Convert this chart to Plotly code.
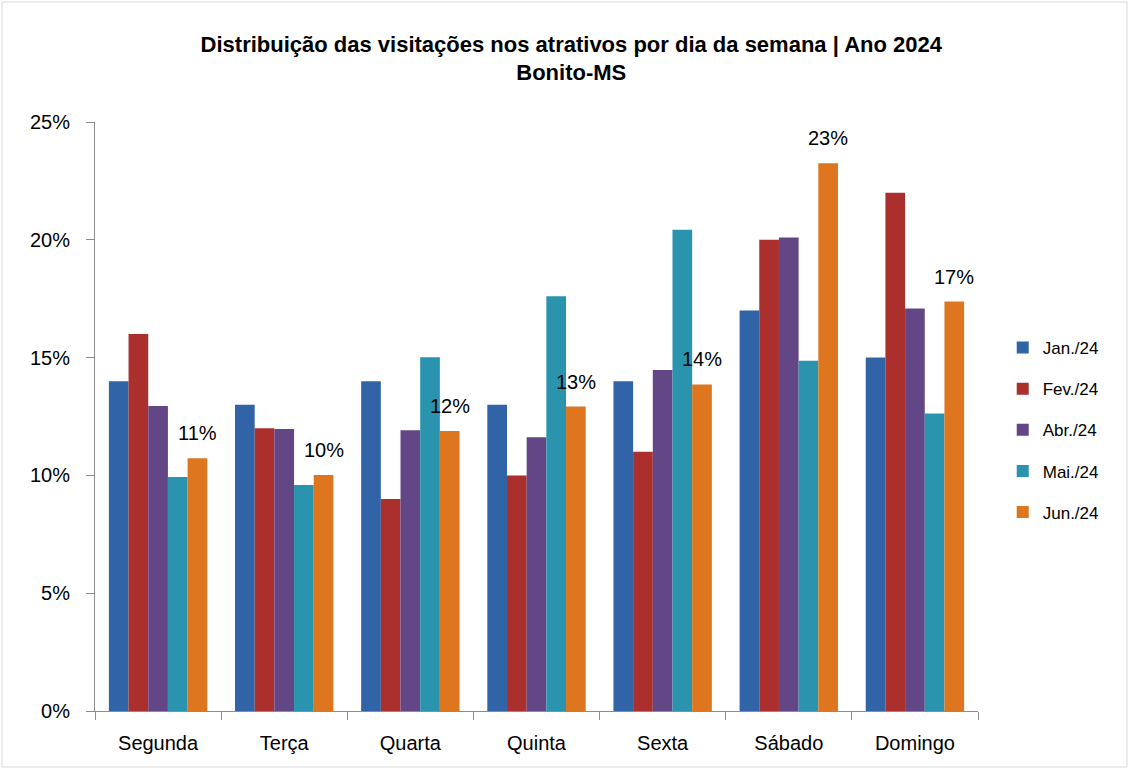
import plotly.graph_objects as go

days = ["Segunda", "Terça", "Quarta", "Quinta", "Sexta", "Sábado", "Domingo"]
series_names = ["Jan./24", "Fev./24", "Abr./24", "Mai./24", "Jun./24"]
jan = [0.140, 0.130, 0.140, 0.130, 0.140, 0.170, 0.150]
fev = [0.160, 0.120, 0.090, 0.100, 0.110, 0.200, 0.220]
abr = [0.1295, 0.1197, 0.1192, 0.1162, 0.1447, 0.2010, 0.1708]
mai = [0.0993, 0.0959, 0.1502, 0.1760, 0.2043, 0.1487, 0.1263]
jun = [0.1073, 0.1002, 0.1188, 0.1292, 0.1386, 0.2325, 0.1738]
colors = ["#3064A6", "#AA2F2D", "#634686", "#2A93AE", "#DE7620"]

W, H = 1129, 769
ML, MR, MT, MB = 95, 151, 122, 58
BARGAP = 0.22
n_series = len(series_names)

fig = go.Figure()
for name, vals, col in zip(series_names, [jan, fev, abr, mai, jun], colors):
    fig.add_trace(go.Bar(x=days, y=vals, name=name, marker=dict(color=col, line=dict(width=0)),
                         legendgroup=name))

# data labels for the last series (Jun./24), placed over its bar
plot_w = W - ML - MR
bar_w = plot_w / len(days) * (1 - BARGAP) / n_series
jun_shift = (n_series - 1 - (n_series - 1) / 2) * bar_w
for d, v in zip(days, jun):
    fig.add_annotation(x=d, y=v, xref="x", yref="y", text=f"{v*100:.0f}%", showarrow=False,
                       xshift=jun_shift, yshift=25, yanchor="middle",
                       font=dict(family="Liberation Sans", size=20, color="#000000"))

fig.update_layout(
    width=W, height=H,
    barmode="group", bargap=BARGAP, bargroupgap=0,
    paper_bgcolor="white", plot_bgcolor="white",
    margin=dict(l=ML, r=MR, t=MT, b=MB),
    title=dict(text="Distribuição das visitações nos atrativos por dia da semana | Ano 2024<br>Bonito-MS",
               x=0.506, xanchor="center", xref="container", y=0.933, yanchor="top", yref="container",
               font=dict(family="Liberation Sans", size=22, color="#000000", weight="bold")),
    font=dict(family="Liberation Sans", color="#000000"),
    legend=dict(x=1.028, xanchor="left", y=0.477, yanchor="middle", traceorder="grouped",
                tracegroupgap=16, font=dict(size=17), itemwidth=30),
    showlegend=True,
)
fig.update_yaxes(range=[0, 0.25], tickformat=".0%", dtick=0.05, showgrid=False, zeroline=False,
                 showline=True, linecolor="#8C8C8C", linewidth=1, ticks="outside", ticklen=8,
                 tickcolor="#8C8C8C", tickfont=dict(size=20), ticklabelstandoff=12, automargin=False)
fig.update_xaxes(showgrid=False, showline=True, linecolor="#8C8C8C", linewidth=1, ticks="outside",
                 tickson="boundaries", ticklen=8, tickcolor="#8C8C8C", tickfont=dict(size=20),
                 ticklabelstandoff=14, automargin=False)

fig.add_shape(type="rect", xref="paper", yref="paper",
              x0=(2 - ML) / plot_w, x1=(W - 2 - ML) / plot_w,
              y0=(H - MB - (H - 2)) / (H - MT - MB), y1=(H - MB - 2) / (H - MT - MB),
              line=dict(color="#D9D9D9", width=1), fillcolor="rgba(0,0,0,0)", layer="below")

fig.write_html("out.html", config={"displayModeBar": False},
               post_script="document.body.style.margin='0';")
